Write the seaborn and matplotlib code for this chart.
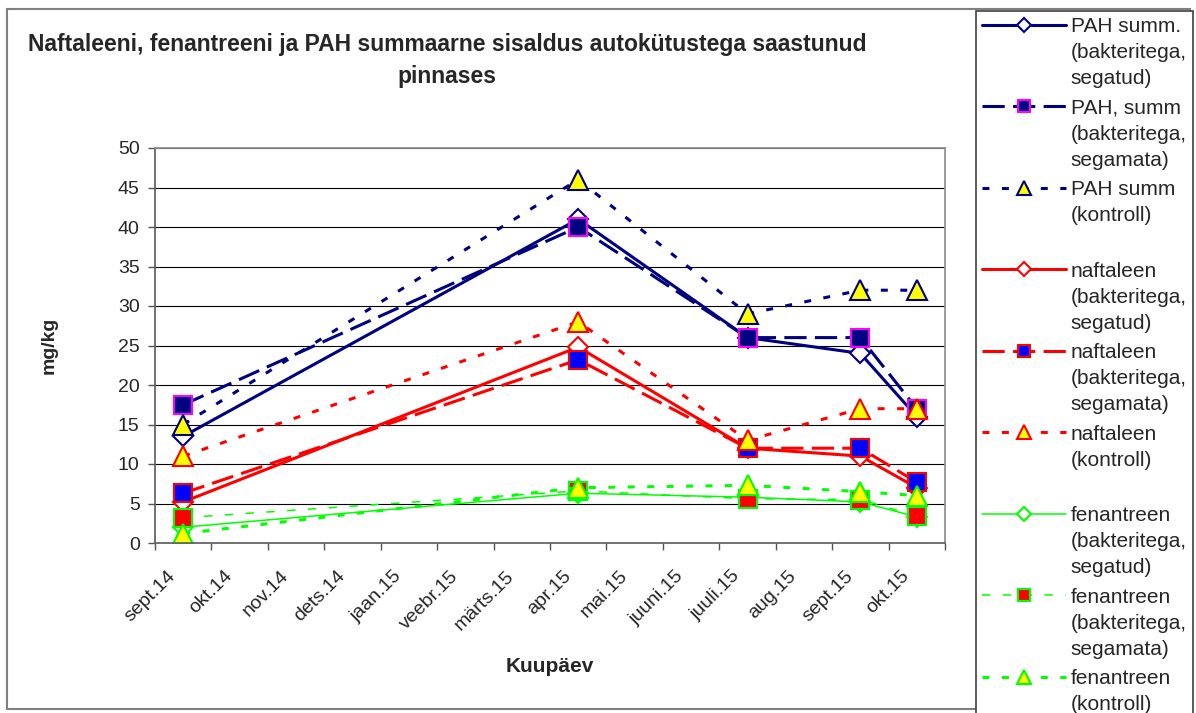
"""
Naftaleen, fenantreen ja PAH summ - line chart recreation
"""

import numpy as np
import pandas as pd
import matplotlib
matplotlib.use('Agg')
import matplotlib.pyplot as plt
import seaborn as sns
from matplotlib.patches import Rectangle
from matplotlib.transforms import ScaledTranslation

# Month axis (one category per month) and the sampling months
months = ["sept.14", "okt.14", "nov.14", "dets.14", "jaan.15", "veebr.15", "märts.15",
          "apr.15", "mai.15", "juuni.15", "juuli.15", "aug.15", "sept.15", "okt.15"]
sample_months = ["sept.14", "apr.15", "juuli.15", "sept.15", "okt.15"]

# mg/kg values
pah_segatud = [13.5, 41.0, 26.0, 24.0, 16.0]
pah_segamata = [17.5, 40.0, 26.0, 26.0, 17.0]
pah_kontroll = [15.0, 46.0, 29.0, 32.0, 32.0]
naft_segatud = [5.2, 24.8, 12.0, 11.0, 7.0]
naft_segamata = [6.3, 23.2, 12.0, 12.0, 7.7]
naft_kontroll = [11.0, 28.0, 13.0, 17.0, 17.0]
fen_segatud = [2.0, 6.3, 5.8, 5.2, 3.3]
fen_segamata = [3.2, 6.6, 5.6, 5.5, 3.4]
fen_kontroll = [1.2, 7.0, 7.3, 6.5, 6.0]

labels = [
    "PAH summ.\n(bakteritega,\nsegatud)",
    "PAH, summ\n(bakteritega,\nsegamata)",
    "PAH summ\n(kontroll)\n",
    "naftaleen\n(bakteritega,\nsegatud)",
    "naftaleen\n(bakteritega,\nsegamata)",
    "naftaleen\n(kontroll)\n",
    "fenantreen\n(bakteritega,\nsegatud)",
    "fenantreen\n(bakteritega,\nsegamata)",
    "fenantreen\n(kontroll)",
]

title = ("Naftaleeni, fenantreeni ja PAH summaarne sisaldus autokütustega saastunud\n"
         "pinnases")

# Style
sns.set_theme(style='ticks')
plt.rcParams['font.family'] = ['Liberation Sans', 'DejaVu Sans']
plt.rcParams['lines.scale_dashes'] = False

NAVY, RED, LIME = '#000080', '#FF0000', '#00FF00'
LONG = (0, (16, 6))
DOT = (0, (5, 9))
THIN_DASH = (0, (6, 9))

styles = [
    dict(color=NAVY, linewidth=2.2, linestyle='-', marker='D', markersize=10,
         markerfacecolor='white', markeredgecolor=NAVY),
    dict(color=NAVY, linewidth=2.2, linestyle=LONG, marker='s', markersize=12.5,
         markerfacecolor=NAVY, markeredgecolor='#FF00FF'),
    dict(color=NAVY, linewidth=2.2, linestyle=DOT, marker='^', markersize=15,
         markerfacecolor='#FFFF00', markeredgecolor=NAVY),
    dict(color=RED, linewidth=2.2, linestyle='-', marker='D', markersize=10,
         markerfacecolor='white', markeredgecolor=RED),
    dict(color=RED, linewidth=2.2, linestyle=LONG, marker='s', markersize=12.5,
         markerfacecolor='#0000FF', markeredgecolor=RED),
    dict(color=RED, linewidth=2.2, linestyle=DOT, marker='^', markersize=15,
         markerfacecolor='#FFFF00', markeredgecolor=RED),
    dict(color=LIME, linewidth=1.1, linestyle='-', marker='D', markersize=10,
         markerfacecolor='white', markeredgecolor=LIME),
    dict(color=LIME, linewidth=1.1, linestyle=THIN_DASH, marker='s', markersize=12.5,
         markerfacecolor=RED, markeredgecolor=LIME),
    dict(color=LIME, linewidth=2.2, linestyle=DOT, marker='^', markersize=15,
         markerfacecolor='#FFFF00', markeredgecolor=LIME),
]

values = [pah_segatud, pah_segamata, pah_kontroll,
          naft_segatud, naft_segamata, naft_kontroll,
          fen_segatud, fen_segamata, fen_kontroll]

x_pos = [months.index(m) for m in sample_months]

fig = plt.figure(figsize=(11.96, 7.13), dpi=100)
ax = fig.add_axes([155 / 1196, 1 - 543 / 713, 790 / 1196, 395 / 713])

for label, vals, st in zip(labels, values, styles):
    df = pd.DataFrame({'x': x_pos, 'y': vals})
    sns.lineplot(data=df, x='x', y='y', ax=ax, label=label,
                 markeredgewidth=1.5, **st)

# Axes
ax.set_xlim(-0.5, 13.5)
ax.set_ylim(0, 50)
ax.set_yticks(np.arange(0, 51, 5))
ax.set_xticks(range(len(months)))
ax.set_xticklabels(months, rotation=45, ha='right', va='center', rotation_mode='anchor')
ax.set_xticks(np.arange(-0.5, 14, 1), minor=True)
ax.tick_params(axis='x', which='major', length=0, pad=22, labelsize=14)
ax.tick_params(axis='x', which='minor', length=5, width=1, color='#555555')
ax.tick_params(axis='y', length=5, width=1, color='#555555', labelsize=14, pad=6)
# Excel puts the rotated labels slightly left of the month centre
shift = ScaledTranslation(-0.10, 0, fig.dpi_scale_trans)
for lab in ax.get_xticklabels():
    lab.set_transform(lab.get_transform() + shift)
ax.yaxis.grid(True, color='black', linewidth=0.8)
ax.set_axisbelow(True)
for side in ['top', 'right']:
    ax.spines[side].set_color('#909090')
for side in ['left', 'bottom']:
    ax.spines[side].set_color('#606060')

ax.set_ylabel('mg/kg', fontsize=14, fontweight='bold')
ax.yaxis.set_label_coords(-0.123, 0.5)
ax.set_xlabel('Kuupäev', fontsize=15, fontweight='bold')
ax.xaxis.set_label_coords(0.5, -0.289)

fig.text(447 / 1196, 1 - 60 / 713, title, ha='center', va='center',
         fontsize=16.5, fontweight='bold', linespacing=1.5)

# Legend on the right
handles, lbls = ax.get_legend_handles_labels()
ax.get_legend().remove()
leg = fig.legend(handles, lbls, loc='upper left',
                 bbox_to_anchor=(976 / 1196, 1 - 11 / 713), borderaxespad=0,
                 fontsize=15, handlelength=4.0, handletextpad=0.25,
                 labelspacing=0.5, borderpad=0.3, markerscale=0.7,
                 frameon=True, fancybox=False, edgecolor='#404040', framealpha=1)
leg.get_frame().set_linewidth(1.2)
for t in leg.get_texts():
    t.set_linespacing(1.47)
for item in leg._legend_handle_box.get_children()[0].get_children():
    item.align = 'top'

# Outer chart border
fig.add_artist(Rectangle((7 / 1196, 4 / 713), 1183 / 1196, 700 / 713,
                         transform=fig.transFigure, fill=False,
                         edgecolor='#808080', linewidth=1.5))

fig.savefig('out.png', dpi=100)
